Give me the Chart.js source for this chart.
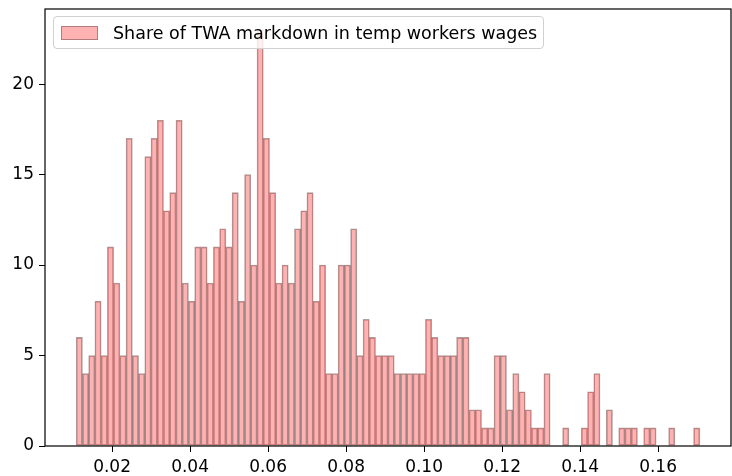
<!DOCTYPE html>
<html>
<head>
<meta charset="utf-8">
<script src="https://cdn.jsdelivr.net/npm/chart.js@4.4.1/dist/chart.umd.min.js"></script>
<style>
    html, body { margin: 0; padding: 0; background: #fff; }
    #wrap { position: relative; width: 732px; height: 476px; }
    #legend {
        position: absolute; left: 53px; top: 16px; height: 31px;
        padding: 0 6px 0 7px;
        display: flex; align-items: center;
        background: rgba(255, 255, 255, 0.8);
        border: 1px solid #d0d0d0; border-radius: 4px;
        font-family: 'DejaVu Sans', sans-serif; font-size: 17.5px; color: #000;
        white-space: nowrap;
    }
    #legend .swatch {
        width: 35px; height: 12px; margin-right: 15px;
        background: rgba(255, 0, 0, 0.3);
        border: 1px solid rgba(0, 0, 0, 0.3);
    }
</style>
</head>
<body>
<div id="wrap">
    <canvas id="histChart" width="732" height="476"></canvas>
    <div id="legend"><span class="swatch"></span><span id="legend-label"></span></div>
</div>
<script>
// -- Data --
const seriesLabel = 'Share of TWA markdown in temp workers wages';
const binLo = 0.0108;
const binHi = 0.1707;
const counts = [
    6, 4, 5, 8, 5, 11, 9, 5, 17, 5,
    4, 16, 17, 18, 13, 14, 18, 9, 8, 11,
    11, 9, 11, 12, 11, 14, 8, 15, 10, 23,
    17, 14, 9, 10, 9, 12, 13, 14, 8, 10,
    4, 4, 10, 10, 12, 5, 7, 6, 5, 5,
    5, 4, 4, 4, 4, 4, 7, 6, 5, 5,
    5, 6, 6, 2, 2, 1, 1, 5, 5, 2,
    4, 3, 2, 1, 1, 4, 0, 0, 1, 0,
    0, 1, 3, 4, 0, 2, 0, 1, 1, 1,
    0, 1, 1, 0, 0, 1, 0, 0, 0, 1
];
const xTicks = [0.02, 0.04, 0.06, 0.08, 0.10, 0.12, 0.14, 0.16];
const yTicks = [0, 5, 10, 15, 20];
const xRange = [0.0028, 0.1787];
const yRange = [0, 24.15];

// -- Build histogram points (bin centres) --
const binWidth = (binHi - binLo) / counts.length;
const points = counts.map((c, i) => ({ x: binLo + (i + 0.5) * binWidth, y: c }));

document.getElementById('legend-label').textContent = seriesLabel;

// -- Frame around the plot area, like matplotlib spines --
const framePlugin = {
    id: 'frame',
    afterDatasetsDraw(chart) {
        const a = chart.chartArea;
        const ctx = chart.ctx;
        ctx.save();
        ctx.strokeStyle = '#000';
        ctx.lineWidth = 1.2;
        ctx.strokeRect(a.left, a.top, a.right - a.left, a.bottom - a.top);
        ctx.restore();
    }
};

Chart.defaults.font.family = "'DejaVu Sans', sans-serif";
Chart.defaults.font.size = 17;
Chart.defaults.color = '#000';

new Chart(document.getElementById('histChart').getContext('2d'), {
    type: 'bar',
    data: {
        datasets: [{
            label: seriesLabel,
            data: points,
            backgroundColor: 'rgba(255, 0, 0, 0.3)',
            borderColor: 'rgba(60, 25, 25, 0.42)',
            borderWidth: 0.9,
            borderSkipped: false,
            barPercentage: 1,
            categoryPercentage: 1
        }]
    },
    options: {
        responsive: false,
        devicePixelRatio: 1,
        animation: false,
        layout: { padding: { top: 9, right: 1, left: 0, bottom: 0 } },
        plugins: {
            legend: { display: false },
            tooltip: { enabled: false }
        },
        scales: {
            x: {
                type: 'linear',
                offset: false,
                min: xRange[0],
                max: xRange[1],
                afterFit: s => { s.height = 30; s.paddingLeft = 0; s.paddingRight = 0; },
                afterBuildTicks: s => { s.ticks = xTicks.map(v => ({ value: v })); },
                ticks: {
                    padding: 5,
                    maxRotation: 0,
                    autoSkip: false,
                    callback: v => v.toFixed(2)
                },
                grid: { offset: false, drawOnChartArea: false, drawTicks: true, tickLength: 6, color: '#000' },
                border: { display: false }
            },
            y: {
                min: yRange[0],
                max: yRange[1],
                afterFit: s => { s.width = 45; s.paddingTop = 0; s.paddingBottom = 0; },
                afterBuildTicks: s => { s.ticks = yTicks.map(v => ({ value: v })); },
                ticks: { padding: 5, autoSkip: false },
                grid: { drawOnChartArea: false, drawTicks: true, tickLength: 6, color: '#000' },
                border: { display: false }
            }
        }
    },
    plugins: [framePlugin]
});
</script>
</body>
</html>
